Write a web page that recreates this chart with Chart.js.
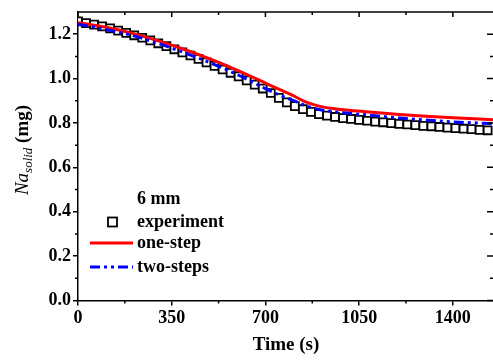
<!DOCTYPE html>
<html>
<head>
<meta charset="utf-8">
<script src="https://cdn.jsdelivr.net/npm/chart.js@4.4.1/dist/chart.umd.min.js"></script>
<style>
html, body { margin: 0; padding: 0; background: #fff; }
</style>
</head>
<body>
<canvas id="chart" width="493" height="360"></canvas>
<script>
// experiment, 6 mm (squares)
const expTime = [0, 30, 60, 90, 120, 150, 180, 210, 240, 270, 300, 330, 360, 390, 420, 450, 480, 510,
    540, 570, 600, 630, 660, 690, 720, 750, 780, 810, 840, 870, 900, 930, 960, 990, 1020, 1050,
    1080, 1110, 1140, 1170, 1200, 1230, 1260, 1290, 1320, 1350, 1380, 1410, 1440, 1470, 1500, 1530];
const expMass = [1.258, 1.250, 1.243, 1.235, 1.226, 1.216, 1.206, 1.195, 1.184, 1.172, 1.159, 1.146,
    1.132, 1.118, 1.104, 1.089, 1.073, 1.057, 1.041, 1.026, 1.010, 0.992, 0.973, 0.955, 0.935, 0.913,
    0.893, 0.876, 0.862, 0.850, 0.840, 0.833, 0.827, 0.822, 0.818, 0.814, 0.810, 0.806, 0.803, 0.799,
    0.796, 0.793, 0.790, 0.787, 0.785, 0.782, 0.779, 0.777, 0.774, 0.772, 0.769, 0.767];

// model curves
const modelTime = [0, 100, 200, 300, 400, 500, 600, 700, 750, 800, 850, 900, 950, 1000, 1100, 1200, 1300, 1400, 1550];
const oneStep = [1.252, 1.232, 1.205, 1.170, 1.130, 1.085, 1.035, 0.980, 0.952, 0.925, 0.895, 0.876, 0.865,
    0.858, 0.848, 0.838, 0.830, 0.823, 0.815];
const twoSteps = [1.245, 1.222, 1.195, 1.158, 1.115, 1.068, 1.015, 0.955, 0.927, 0.903, 0.878, 0.861, 0.851,
    0.845, 0.834, 0.822, 0.813, 0.805, 0.797];

const xTicks = [0, 350, 700, 1050, 1400];
const xMinor = [175, 525, 875, 1225];
const yTicks = [0.0, 0.2, 0.4, 0.6, 0.8, 1.0, 1.2];
const yMinor = [0.1, 0.3, 0.5, 0.7, 0.9, 1.1];

const legendTitle = "6 mm";
const serif = '"Liberation Serif", "Times New Roman", serif';

function toPoints(xs, ys) {
    return xs.map((x, i) => ({ x: x, y: ys[i] }));
}

// minor ticks, top/right inward ticks, axis titles and the legend
const decor = {
    id: "decor",
    afterDraw(chart) {
        const ctx = chart.ctx;
        const a = chart.chartArea;
        const xs = chart.scales.x;
        const ys = chart.scales.y;
        ctx.save();
        ctx.strokeStyle = "#000";
        ctx.lineWidth = 1.5;

        // top frame line
        ctx.beginPath();
        ctx.moveTo(a.left, a.top);
        ctx.lineTo(a.right, a.top);
        ctx.stroke();

        ctx.beginPath();
        xTicks.forEach((v) => {
            const p = xs.getPixelForValue(v);
            ctx.moveTo(p, a.top);
            ctx.lineTo(p, a.top + 5);
        });
        xMinor.forEach((v) => {
            const p = xs.getPixelForValue(v);
            ctx.moveTo(p, a.top);
            ctx.lineTo(p, a.top + 3);
            ctx.moveTo(p, a.bottom);
            ctx.lineTo(p, a.bottom + 3);
        });
        yTicks.forEach((v) => {
            const p = ys.getPixelForValue(v);
            ctx.moveTo(a.right, p);
            ctx.lineTo(a.right - 6, p);
        });
        yMinor.forEach((v) => {
            const p = ys.getPixelForValue(v);
            ctx.moveTo(a.right, p);
            ctx.lineTo(a.right - 3, p);
            ctx.moveTo(a.left, p);
            ctx.lineTo(a.left - 3, p);
        });
        ctx.stroke();

        // x title
        ctx.fillStyle = "#000";
        ctx.font = "bold 19px " + serif;
        ctx.textAlign = "center";
        ctx.textBaseline = "middle";
        ctx.fillText("Time (s)", 286, 345);

        // y title: Na_solid (mg)
        ctx.save();
        ctx.translate(22, 150);
        ctx.rotate(-Math.PI / 2);
        ctx.textAlign = "left";
        ctx.textBaseline = "alphabetic";
        const f1 = "italic 19px " + serif;
        const f2 = "italic 13px " + serif;
        const f3 = "bold 19px " + serif;
        ctx.font = f1; const w1 = ctx.measureText("Na").width;
        ctx.font = f2; const w2 = ctx.measureText("solid").width;
        ctx.font = f3; const w3 = ctx.measureText(" (mg)").width;
        let x0 = -(w1 + w2 + w3) / 2;
        ctx.font = f1; ctx.fillText("Na", x0, 6);
        ctx.font = f2; ctx.fillText("solid", x0 + w1, 10);
        ctx.font = f3; ctx.fillText(" (mg)", x0 + w1 + w2, 6);
        ctx.restore();

        // legend
        const ds = chart.data.datasets;
        ctx.font = "bold 18px " + serif;
        ctx.textAlign = "left";
        ctx.textBaseline = "middle";
        ctx.fillText(legendTitle, 137, 199);

        ctx.lineWidth = 1.8;
        ctx.strokeStyle = ds[0].borderColor;
        ctx.strokeRect(108, 217.5, 9, 9);
        ctx.fillText(ds[0].label, 137, 222);

        ctx.lineWidth = ds[1].borderWidth;
        ctx.strokeStyle = ds[1].borderColor;
        ctx.beginPath();
        ctx.moveTo(90, 243);
        ctx.lineTo(133, 243);
        ctx.stroke();
        ctx.fillText(ds[1].label, 137, 243);

        ctx.lineWidth = ds[2].borderWidth;
        ctx.strokeStyle = ds[2].borderColor;
        ctx.setLineDash(ds[2].borderDash);
        ctx.beginPath();
        ctx.moveTo(90, 267);
        ctx.lineTo(133, 267);
        ctx.stroke();
        ctx.setLineDash([]);
        ctx.fillText(ds[2].label, 137, 267);

        ctx.restore();
    },
};

const $chart = document.getElementById("chart");
new Chart($chart.getContext("2d"), {
    type: "line",
    data: {
        datasets: [
            {
                label: "experiment",
                data: toPoints(expTime, expMass),
                showLine: false,
                pointStyle: "rect",
                pointRadius: 5.6,
                pointBorderWidth: 1.8,
                borderColor: "#000",
                pointBorderColor: "#000",
                pointBackgroundColor: "#fff",
                order: 3,
            },
            {
                label: "one-step",
                data: toPoints(modelTime, oneStep),
                borderColor: "#ff0000",
                borderWidth: 3,
                pointRadius: 0,
                cubicInterpolationMode: "monotone",
                order: 2,
            },
            {
                label: "two-steps",
                data: toPoints(modelTime, twoSteps),
                borderColor: "#0000ff",
                borderWidth: 3,
                borderDash: [10, 4, 3, 4, 3, 4],
                pointRadius: 0,
                cubicInterpolationMode: "monotone",
                order: 1,
            },
        ],
    },
    options: {
        responsive: false,
        animation: false,
        devicePixelRatio: 1,
        layout: { autoPadding: false, padding: { top: 12, right: 0, left: 0, bottom: 0 } },
        plugins: {
            legend: { display: false },
            tooltip: { enabled: false },
        },
        scales: {
            x: {
                type: "linear",
                min: 0,
                max: 1550,
                afterBuildTicks: (s) => { s.ticks = xTicks.map((v) => ({ value: v })); },
                afterFit: (s) => { s.height = 59.5; s.paddingRight = 0; s.paddingLeft = 0; },
                grid: { drawOnChartArea: false, tickLength: 5, color: "#000", lineWidth: 1.5 },
                border: { color: "#000", width: 1.5 },
                ticks: {
                    color: "#000",
                    padding: 2,
                    maxRotation: 0,
                    font: { family: serif, weight: "bold", size: 18 },
                    callback: (v) => String(v),
                },
            },
            y: {
                min: 0,
                max: 1.3,
                afterBuildTicks: (s) => { s.ticks = yTicks.map((v) => ({ value: v })); },
                afterFit: (s) => { s.width = 78; s.paddingTop = 0; s.paddingBottom = 0; },
                grid: { drawOnChartArea: false, tickLength: 5, color: "#000", lineWidth: 1.5 },
                border: { color: "#000", width: 1.5 },
                ticks: {
                    color: "#000",
                    padding: 2,
                    font: { family: serif, weight: "bold", size: 18 },
                    callback: (v) => v.toFixed(1),
                },
            },
        },
    },
    plugins: [decor],
});
</script>
</body>
</html>
